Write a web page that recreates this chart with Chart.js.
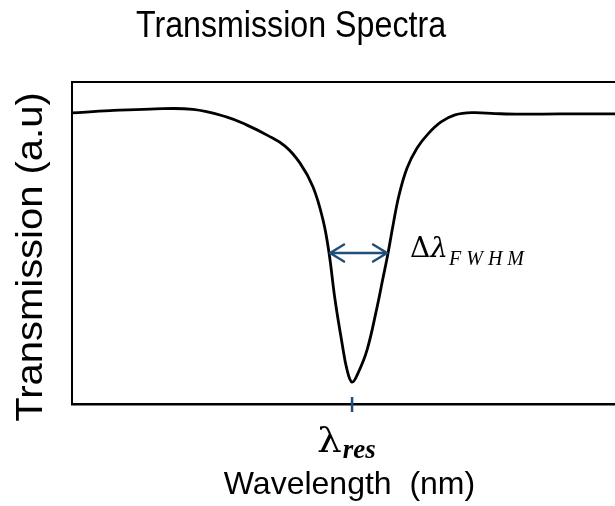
<!DOCTYPE html>
<html><head><meta charset="utf-8">
<script src="https://cdn.jsdelivr.net/npm/chart.js@4/dist/chart.umd.min.js"></script>
<style>
html,body{margin:0;padding:0;background:#fff;overflow:hidden;width:615px;height:506px}
#wrap{position:relative;width:627px;height:506px}
</style></head>
<body><div id="wrap"><canvas id="c" width="627" height="506"></canvas></div>
<script>
const chartTitle = 'Transmission Spectra';
const xAxisTitle = 'Wavelength  (nm)';
const yAxisTitle = 'Transmission (a.u)';
// wavelength in arbitrary units (0..102 spans the visible plot)
const wavelength   = [0, 6.99, 14.34, 22.24, 28.49, 32.17, 35.85, 39.15, 41.91, 44.30, 46.14, 47.24, 48.35, 49.63, 50.55, 51.47, 52.57, 54.23, 56.07, 57.08, 58.09, 59.01, 60.11, 61.58, 63.42, 65.44, 67.83, 70.40, 73.71, 77.76, 82.35, 89.71, 102];
const transmission = [0.904, 0.911, 0.916, 0.915, 0.891, 0.866, 0.835, 0.801, 0.748, 0.674, 0.571, 0.469, 0.323, 0.189, 0.106, 0.068, 0.096, 0.168, 0.301, 0.385, 0.469, 0.556, 0.649, 0.733, 0.795, 0.839, 0.876, 0.898, 0.905, 0.902, 0.900, 0.901, 0.901];
const resonanceWavelength = 51.47;
const fwhmStart = 47.24;
const fwhmEnd = 58.09;
const fwhmLevel = 0.469;
const resonanceLabel = ['λ', 'res'];
const fwhmLabel = ['Δ', 'λ', 'FWHM'];

const accent = '#1F4E79';
const sans = '"Liberation Sans", Arial, sans-serif';
const serif = '"Liberation Serif", serif';
const mathSerif = '"DejaVu Serif", serif';

const annotations = {
  id: 'annotations',
  afterDraw(chart) {
    const {ctx, chartArea: a, scales: {x, y}} = chart;
    ctx.save();
    // top frame line
    ctx.strokeStyle = '#000';
    ctx.lineWidth = 2;
    ctx.beginPath();
    ctx.moveTo(a.left - 1, a.top);
    ctx.lineTo(a.right, a.top);
    ctx.stroke();

    // resonance tick
    const xr = x.getPixelForValue(resonanceWavelength);
    ctx.strokeStyle = accent;
    ctx.lineWidth = 2.5;
    ctx.beginPath();
    ctx.moveTo(xr, a.bottom - 7);
    ctx.lineTo(xr, a.bottom + 8);
    ctx.stroke();

    // FWHM double arrow
    const x1 = x.getPixelForValue(fwhmStart);
    const x2 = x.getPixelForValue(fwhmEnd);
    const yy = y.getPixelForValue(fwhmLevel);
    ctx.lineCap = 'round';
    ctx.lineJoin = 'round';
    ctx.beginPath();
    ctx.moveTo(x1 + 1, yy); ctx.lineTo(x2 - 1, yy);
    ctx.moveTo(x1 + 15, yy - 8.5); ctx.lineTo(x1 + 1, yy); ctx.lineTo(x1 + 15, yy + 8.5);
    ctx.moveTo(x2 - 15, yy - 8.5); ctx.lineTo(x2 - 1, yy); ctx.lineTo(x2 - 15, yy + 8.5);
    ctx.stroke();

    ctx.fillStyle = '#000';
    ctx.textBaseline = 'alphabetic';
    // chart title (slightly condensed, as in the reference)
    ctx.save();
    ctx.textAlign = 'center';
    ctx.translate(291, 37);
    ctx.scale(0.87, 1);
    ctx.font = '37px ' + sans;
    ctx.fillText(chartTitle, 0, 0);
    ctx.restore();

    // y axis title
    ctx.save();
    ctx.textAlign = 'center';
    ctx.translate(42, 257);
    ctx.rotate(-Math.PI / 2);
    ctx.scale(1.08, 1);
    ctx.font = '37px ' + sans;
    ctx.fillText(yAxisTitle, 0, 0);
    ctx.restore();

    // lambda_res label under the tick
    ctx.textAlign = 'left';
    let lx = xr - 35;
    ctx.font = '34px ' + mathSerif;
    const lw = ctx.measureText(resonanceLabel[0]).width;
    ctx.save();
    ctx.translate(lx, 452);
    ctx.scale(1.15, 1);
    ctx.fillText(resonanceLabel[0], 0, 0);
    ctx.restore();
    lx += lw * 1.15 + 1;
    ctx.font = 'italic bold 27px ' + serif;
    ctx.fillText(resonanceLabel[1], lx, 458);

    // delta lambda FWHM label
    let fx = x2 + 22;
    ctx.font = '28px ' + mathSerif;
    ctx.fillText(fwhmLabel[0], fx, yy + 4);
    fx += ctx.measureText(fwhmLabel[0]).width;
    ctx.font = 'italic 28px ' + mathSerif;
    ctx.fillText(fwhmLabel[1], fx, yy + 4);
    fx += ctx.measureText(fwhmLabel[1]).width + 1;
    ctx.font = 'italic 20px ' + serif;
    ctx.letterSpacing = '5px';
    ctx.fillText(fwhmLabel[2], fx, yy + 12);
    ctx.letterSpacing = '0px';
    ctx.restore();
  }
};

Chart.defaults.color = '#000';
new Chart(document.getElementById('c'), {
  type: 'line',
  data: {
    datasets: [{
      label: yAxisTitle,
      data: wavelength.map((w, i) => ({x: w, y: transmission[i]})),
      borderColor: '#000',
      borderWidth: 2.8,
      pointRadius: 0,
      tension: 0.4,
      fill: false
    }]
  },
  options: {
    responsive: false,
    animation: false,
    devicePixelRatio: 1,
    layout: {padding: {top: 82, left: 0, right: 0, bottom: 0}},
    plugins: {legend: {display: false}, tooltip: {enabled: false}, title: {display: false}},
    scales: {
      x: {
        type: 'linear', min: 0, max: 102,
        grid: {display: false},
        ticks: {display: false},
        border: {display: true, color: '#000', width: 2.5},
        title: {display: true, text: xAxisTitle, color: '#000', font: {family: sans, size: 32}, padding: {top: 0, bottom: 2}},
        afterFit(s) { s.height = 102; }
      },
      y: {
        min: 0, max: 1,
        grid: {display: false},
        ticks: {display: false},
        border: {display: true, color: '#000', width: 2},
        afterFit(s) { s.width = 72; }
      }
    }
  },
  plugins: [annotations]
});
</script>
</body></html>
